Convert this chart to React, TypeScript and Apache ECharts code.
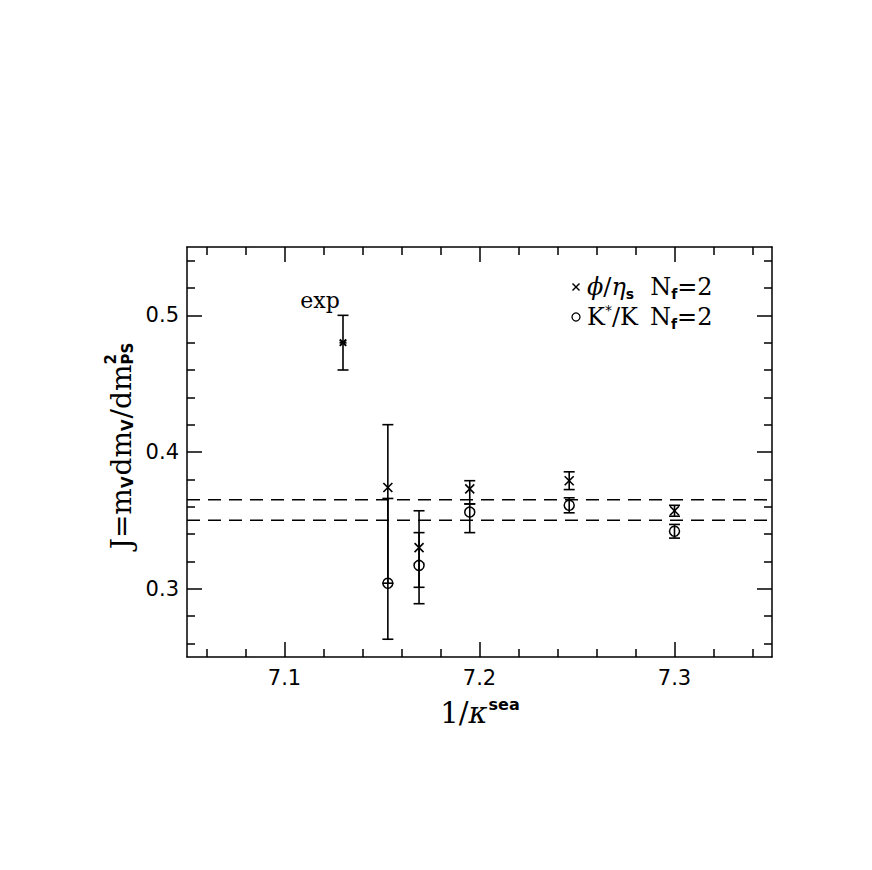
import React, { useEffect, useRef } from "react";
import * as echarts from "echarts";

// ---- data ----
const xMajorTicks = [7.1, 7.2, 7.3];
const xMinorTicks = [7.06, 7.08, 7.12, 7.14, 7.16, 7.18, 7.22, 7.24, 7.26, 7.28, 7.32, 7.34];
const yMajorTicks = [0.3, 0.4, 0.5];
const yMinorTicks = [0.26, 0.28, 0.32, 0.34, 0.36, 0.38, 0.42, 0.44, 0.46, 0.48, 0.52, 0.54];

const kappaSea = [7.153, 7.169, 7.195, 7.246, 7.3];
const jPhiEta = [0.374, 0.33, 0.373, 0.379, 0.357];
const errUpPhiEta = [0.046, 0.027, 0.006, 0.0065, 0.004];
const errDownPhiEta = [0.07, 0.029, 0.011, 0.0065, 0.004];
const jKstarK = [0.304, 0.317, 0.356, 0.361, 0.342];
const errUpKstarK = [0.062, 0.024, 0.006, 0.0055, 0.005];
const errDownKstarK = [0.041, 0.028, 0.015, 0.0055, 0.005];

const expKappa = [7.13];
const expJ = [0.48];
const expErr = [0.02];

const bandLevels = [0.365, 0.35];

const X_MIN = 7.05;
const X_MAX = 7.35;
const Y_MIN = 0.25;
const Y_MAX = 0.55;

const SERIF = '"DejaVu Serif", serif';
const SANS = '"DejaVu Sans", sans-serif';
const BLACK = "#000";

// ---- text helpers ----
let measureCtx: CanvasRenderingContext2D | null = null;
function measure(text: string, font: string): number {
  if (!measureCtx) {
    const c = document.createElement("canvas");
    measureCtx = c.getContext("2d");
  }
  if (!measureCtx) return text.length * 10;
  measureCtx.font = font;
  return measureCtx.measureText(text).width;
}

type Part = {
  t: string;
  size: number;
  family?: string;
  italic?: boolean;
  bold?: boolean;
  dy?: number;
  noAdvance?: boolean;
  gap?: number;
};

function mathRow(parts: Part[], x0: number, y0: number, align: "left" | "center") {
  const items: any[] = [];
  let x = 0;
  for (const p of parts) {
    x += p.gap || 0;
    const fam = p.family || SERIF;
    const font = `${p.italic ? "italic " : ""}${p.bold ? "bold " : ""}${p.size}px ${fam}`;
    const w = measure(p.t, font);
    items.push({
      type: "text",
      x,
      y: p.dy || 0,
      style: {
        text: p.t,
        fontSize: p.size,
        fontFamily: fam,
        fontStyle: p.italic ? "italic" : "normal",
        fontWeight: p.bold ? "bold" : "normal",
        fill: BLACK,
        align: "left",
        verticalAlign: "middle",
      },
    });
    if (!p.noAdvance) x += w;
  }
  const total = x;
  const shift = align === "center" ? -total / 2 : 0;
  return items.map((it) => ({ ...it, x: it.x + shift + x0, y: it.y + y0 }));
}

// ---- marker renderers ----
function errorBarChildren(api: any, x: number, y: number, up: number, down: number) {
  const pt = api.coord([x, y + up]);
  const pb = api.coord([x, y - down]);
  const cap = 5.5;
  const st = { stroke: BLACK, lineWidth: 1.6 };
  return [
    { type: "line", shape: { x1: pt[0], y1: pt[1], x2: pb[0], y2: pb[1] }, style: st },
    { type: "line", shape: { x1: pt[0] - cap, y1: pt[1], x2: pt[0] + cap, y2: pt[1] }, style: st },
    { type: "line", shape: { x1: pb[0] - cap, y1: pb[1], x2: pb[0] + cap, y2: pb[1] }, style: st },
  ];
}

function crossShape(cx: number, cy: number, h: number, lw: number) {
  const st = { stroke: BLACK, lineWidth: lw };
  return [
    { type: "line", shape: { x1: cx - h, y1: cy - h, x2: cx + h, y2: cy + h }, style: st },
    { type: "line", shape: { x1: cx - h, y1: cy + h, x2: cx + h, y2: cy - h }, style: st },
  ];
}

function makeRender(kind: "cross" | "circle" | "star") {
  return (params: any, api: any) => {
    const x = api.value(0);
    const y = api.value(1);
    const up = api.value(2);
    const down = api.value(3);
    const c = api.coord([x, y]);
    const children: any[] = errorBarChildren(api, x, y, up, down);
    if (kind === "cross") {
      children.push(...crossShape(c[0], c[1], 4.5, 1.6));
    } else if (kind === "circle") {
      children.push({
        type: "circle",
        shape: { cx: c[0], cy: c[1], r: 5 },
        style: { fill: "none", stroke: BLACK, lineWidth: 1.5 },
      });
    } else {
      children.push(...crossShape(c[0], c[1], 3.2, 2));
      children.push({
        type: "line",
        shape: { x1: c[0] - 3.5, y1: c[1], x2: c[0] + 3.5, y2: c[1] },
        style: { stroke: BLACK, lineWidth: 2 },
      });
    }
    return { type: "group", children };
  };
}

function xAxisCfg(position: "bottom" | "top", major: boolean) {
  return {
    type: "value",
    position,
    min: X_MIN,
    max: X_MAX,
    splitLine: { show: false },
    axisLine: { show: major, onZero: false, lineStyle: { color: BLACK, width: 1.5 } },
    axisTick: {
      show: true,
      inside: true,
      length: major ? 15 : 8,
      customValues: major ? xMajorTicks : xMinorTicks,
      lineStyle: { color: BLACK, width: 1.5 },
    },
    axisLabel: {
      show: major && position === "bottom",
      customValues: xMajorTicks,
      margin: 10,
      fontSize: 21,
      fontFamily: SANS,
      color: BLACK,
      formatter: (v: number) => v.toFixed(1),
    },
  };
}

function yAxisCfg(position: "left" | "right", major: boolean) {
  return {
    type: "value",
    position,
    min: Y_MIN,
    max: Y_MAX,
    splitLine: { show: false },
    axisLine: { show: major, onZero: false, lineStyle: { color: BLACK, width: 1.5 } },
    axisTick: {
      show: true,
      inside: true,
      length: major ? 15 : 8,
      customValues: major ? yMajorTicks : yMinorTicks,
      lineStyle: { color: BLACK, width: 1.5 },
    },
    axisLabel: {
      show: major && position === "left",
      customValues: yMajorTicks,
      margin: 8,
      fontSize: 21,
      fontFamily: SANS,
      color: BLACK,
      formatter: (v: number) => v.toFixed(1),
    },
  };
}

export default function App() {
  const ref = useRef<HTMLDivElement>(null);

  useEffect(() => {
    if (!ref.current) return;
    const chart = echarts.init(ref.current, null, { renderer: "svg" });

    const yTitle = mathRow(
      [
        { t: "J=m", size: 28 },
        { t: "V", size: 15, family: SANS, bold: true, dy: 7 },
        { t: "dm", size: 28, gap: 1 },
        { t: "V", size: 15, family: SANS, bold: true, dy: 7 },
        { t: "/dm", size: 28, gap: 1 },
        { t: "2", size: 15, family: SANS, bold: true, dy: -10, noAdvance: true },
        { t: "PS", size: 15, family: SANS, bold: true, dy: 7 },
      ],
      0,
      0,
      "center"
    );

    const xTitle = mathRow(
      [
        { t: "1/", size: 29 },
        { t: "κ", size: 29, italic: true },
        { t: "sea", size: 16, family: SANS, bold: true, dy: -9, gap: 1 },
      ],
      480,
      713,
      "center"
    );

    const legend1 = mathRow(
      [
        { t: "ϕ", size: 24, italic: true },
        { t: "/", size: 24 },
        { t: "η", size: 24, italic: true },
        { t: "s", size: 14, family: SANS, bold: true, dy: 7 },
        { t: "N", size: 24, gap: 16 },
        { t: "f", size: 14, family: SANS, bold: true, dy: 7 },
        { t: "=2", size: 24 },
      ],
      587,
      287,
      "left"
    );

    const legend2 = mathRow(
      [
        { t: "K", size: 24 },
        { t: "*", size: 14, family: SANS, dy: -7 },
        { t: "/K", size: 24 },
        { t: "N", size: 24, gap: 12 },
        { t: "f", size: 14, family: SANS, bold: true, dy: 7 },
        { t: "=2", size: 24 },
      ],
      587,
      317,
      "left"
    );

    const graphic: any[] = [
      {
        type: "group",
        x: 121,
        y: 446,
        rotation: Math.PI / 2,
        children: yTitle,
      },
      ...xTitle,
      ...legend1,
      ...legend2,
      ...crossShape(576, 287, 3.5, 1.4),
      {
        type: "circle",
        shape: { cx: 576, cy: 317, r: 4 },
        style: { fill: "none", stroke: BLACK, lineWidth: 1.3 },
      },
      {
        type: "text",
        x: 320,
        y: 300,
        style: {
          text: "exp",
          fontSize: 22,
          fontFamily: SERIF,
          fill: BLACK,
          align: "center",
          verticalAlign: "middle",
        },
      },
    ];

    chart.setOption({
      animation: false,
      backgroundColor: "#fff",
      grid: { left: 187, right: 100, top: 247, bottom: 213, containLabel: false },
      xAxis: [
        xAxisCfg("bottom", true),
        xAxisCfg("bottom", false),
        xAxisCfg("top", true),
        xAxisCfg("top", false),
      ],
      yAxis: [
        yAxisCfg("left", true),
        yAxisCfg("left", false),
        yAxisCfg("right", true),
        yAxisCfg("right", false),
      ],
      series: [
        ...bandLevels.map((lvl) => ({
          type: "line",
          xAxisIndex: 0,
          yAxisIndex: 0,
          data: [
            [X_MIN, lvl],
            [X_MAX, lvl],
          ],
          symbol: "none",
          silent: true,
          lineStyle: { color: BLACK, width: 1.5, type: [13, 8] },
        })),
        {
          type: "custom",
          name: "phi/eta_s",
          xAxisIndex: 0,
          yAxisIndex: 0,
          silent: true,
          clip: false,
          renderItem: makeRender("cross"),
          data: kappaSea.map((k, i) => [k, jPhiEta[i], errUpPhiEta[i], errDownPhiEta[i]]),
        },
        {
          type: "custom",
          name: "K*/K",
          xAxisIndex: 0,
          yAxisIndex: 0,
          silent: true,
          clip: false,
          renderItem: makeRender("circle"),
          data: kappaSea.map((k, i) => [k, jKstarK[i], errUpKstarK[i], errDownKstarK[i]]),
        },
        {
          type: "custom",
          name: "exp",
          xAxisIndex: 0,
          yAxisIndex: 0,
          silent: true,
          clip: false,
          renderItem: makeRender("star"),
          data: expKappa.map((k, i) => [k, expJ[i], expErr[i], expErr[i]]),
        },
      ],
      graphic,
    });

    return () => {
      chart.dispose();
    };
  }, []);

  return <div ref={ref} style={{ width: 872, height: 870, margin: -8 }} />;
}
